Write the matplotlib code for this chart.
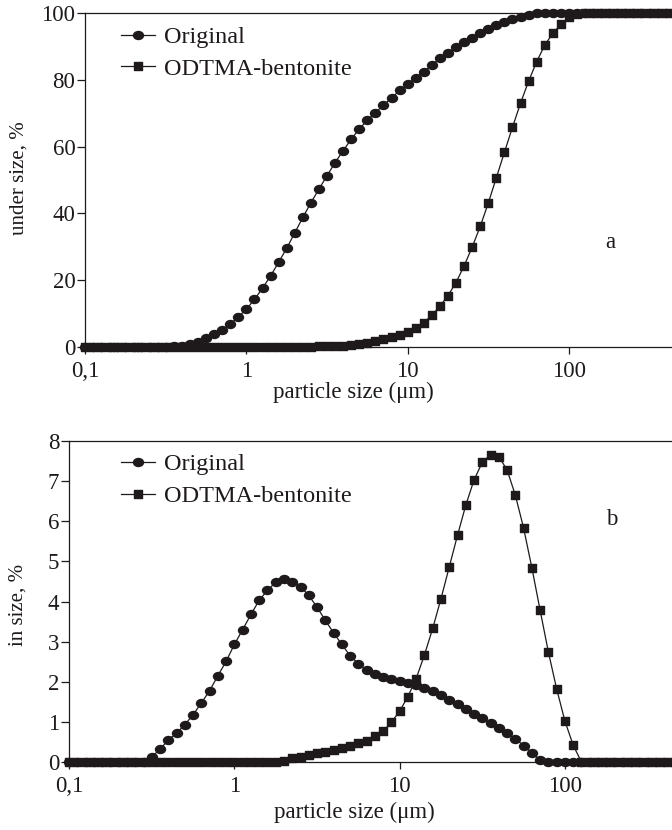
import matplotlib.pyplot as plt
from matplotlib.path import Path
from matplotlib.ticker import NullLocator

plt.rcParams['font.family'] = ['Liberation Serif', 'DejaVu Serif']

# Laser diffraction size classes (um)
size_um = [0.100, 0.112, 0.126, 0.142, 0.159, 0.178, 0.200, 0.224, 0.252, 0.283,
           0.317, 0.356, 0.399, 0.448, 0.502, 0.564, 0.632, 0.710, 0.796, 0.893,
           1.002, 1.125, 1.262, 1.416, 1.589, 1.783, 2.000, 2.244, 2.518, 2.825,
           3.170, 3.557, 3.991, 4.477, 5.024, 5.637, 6.325, 7.096, 7.962, 8.934,
           10.024, 11.247, 12.619, 14.159, 15.887, 17.825, 20.000, 22.440, 25.179, 28.251,
           31.698, 35.566, 39.905, 44.774, 50.238, 56.368, 63.246, 70.963, 79.621, 89.337,
           100.237, 112.468, 126.191, 141.589, 158.866, 178.250, 200.000, 224.404, 251.785, 282.508,
           316.979, 355.656, 399.052, 447.744, 502.377]

# cumulative undersize, %
orig_under = [0.0] * 10 + [0.05, 0.15, 0.4, 0.9, 1.6, 2.6, 3.8, 5.1, 6.8, 9.1,
              11.3, 14.3, 17.6, 21.3, 25.4, 29.6, 34.2, 38.8, 43.2, 47.3,
              51.3, 55.2, 58.8, 62.2, 65.3, 67.9, 70.2, 72.4, 74.6, 76.8,
              78.7, 80.6, 82.4, 84.5, 86.4, 88.1, 89.7, 91.2, 92.6, 93.9,
              95.1, 96.4, 97.4, 98.2, 98.9, 99.4, 99.9] + [100.0] * 18
odtma_under = [0.0] * 27 + [0.05, 0.1, 0.15, 0.2, 0.3, 0.4, 0.6, 0.9, 1.3, 1.7,
               2.3, 2.9, 3.6, 4.5, 5.7, 7.3, 9.5, 12.2, 15.4, 19.3,
               24.3, 29.9, 36.1, 43.1, 50.7, 58.3, 65.8, 73.0, 79.6, 85.4,
               90.4, 93.9, 96.6, 98.7, 99.7] + [100.0] * 13

# volume fraction in each class, %
orig_in = [0.0] * 10 + [0.13, 0.32, 0.55, 0.72, 0.93, 1.18, 1.47, 1.78, 2.15, 2.51,
           2.93, 3.30, 3.68, 4.03, 4.28, 4.48, 4.55, 4.48, 4.37, 4.15,
           3.86, 3.53, 3.22, 2.93, 2.65, 2.45, 2.30, 2.19, 2.12, 2.08,
           2.03, 1.98, 1.93, 1.84, 1.76, 1.66, 1.55, 1.44, 1.32, 1.20,
           1.09, 0.97, 0.84, 0.72, 0.58, 0.41, 0.23, 0.05] + [0.0] * 17
odtma_in = [0.0] * 26 + [0.03, 0.09, 0.12, 0.17, 0.22, 0.26, 0.30, 0.35, 0.40, 0.47,
            0.53, 0.64, 0.77, 0.99, 1.27, 1.63, 2.08, 2.67, 3.33, 4.07,
            4.86, 5.65, 6.40, 7.03, 7.47, 7.66, 7.61, 7.28, 6.65, 5.83,
            4.84, 3.78, 2.74, 1.82, 1.02, 0.42] + [0.0] * 13

series_names = ['Original', 'ODTMA-bentonite']
xtick_vals = [0.1, 1, 10, 100]
xtick_text = ['0,1', '1', '10', '100']

ink = '#1e1a1b'

# slightly wide markers
circ = Path.unit_circle()
dot = Path(circ.vertices * [1.25, 1.0], circ.codes)
box = Path([(-0.6, -0.5), (0.6, -0.5), (0.6, 0.5), (-0.6, 0.5), (-0.6, -0.5)],
           [Path.MOVETO, Path.LINETO, Path.LINETO, Path.LINETO, Path.CLOSEPOLY])

fig = plt.figure(figsize=(6.72, 8.30), dpi=100)
ax_a = fig.add_axes([85/672, (830-347)/830, 645/672, 334/830])
ax_b = fig.add_axes([69/672, (830-762)/830, 661/672, 321/830])


def style(ax, ylabel, yticks):
    ax.set_xscale('log')
    ax.set_xlim(0.1, 1000)
    ax.set_xticks(xtick_vals)
    ax.set_xticklabels(xtick_text)
    ax.xaxis.set_minor_locator(NullLocator())
    ax.set_yticks(yticks)
    ax.set_ylim(yticks[0], yticks[-1])
    ax.spines['right'].set_visible(False)
    for s in ['left', 'bottom', 'top']:
        ax.spines[s].set_color(ink)
        ax.spines[s].set_linewidth(0.9)
    ax.tick_params(axis='y', direction='out', length=6, width=0.9, pad=1,
                   labelsize=16.5, colors=ink)
    ax.tick_params(axis='x', direction='out', length=5, width=0.9, pad=5,
                   labelsize=16.5, colors=ink)
    ax.set_xlabel('particle size (\u03bcm)', fontsize=16.5, color=ink)
    ax.set_ylabel(ylabel, fontsize=15, color=ink)


def draw(ax, y1, y2):
    ax.plot(size_um, y1, color=ink, lw=0.9, marker=dot, ms=7.2,
            mfc=ink, mec=ink, clip_on=False, zorder=3, label=series_names[0])
    ax.plot(size_um, y2, color=ink, lw=0.9, marker=box, ms=6.2,
            mfc=ink, mec=ink, clip_on=False, zorder=3, label=series_names[1])


draw(ax_a, orig_under, odtma_under)
style(ax_a, 'under size, %', [0, 20, 40, 60, 80, 100])
ax_a.xaxis.set_label_coords(0.4155, -0.105)
ax_a.yaxis.set_label_coords(-0.088, 0.505)
ax_a.legend(loc='center left', bbox_to_anchor=(0.056, 0.88), frameon=False,
            fontsize=17.5, handlelength=1.4, handletextpad=0.35, labelspacing=0.4,
            borderpad=0, borderaxespad=0, numpoints=1, labelcolor=ink)
ax_a.text(0.814, 0.314, 'a', transform=ax_a.transAxes, fontsize=16.5,
          color=ink, ha='center', va='center')

draw(ax_b, orig_in, odtma_in)
style(ax_b, 'in size, %', [0, 1, 2, 3, 4, 5, 6, 7, 8])
ax_b.xaxis.set_label_coords(0.431, -0.125)
ax_b.yaxis.set_label_coords(-0.062, 0.49)
ax_b.legend(loc='center left', bbox_to_anchor=(0.079, 0.878), frameon=False,
            fontsize=17.5, handlelength=1.4, handletextpad=0.35, labelspacing=0.4,
            borderpad=0, borderaxespad=0, numpoints=1, labelcolor=ink)
ax_b.text(0.8215, 0.754, 'b', transform=ax_b.transAxes, fontsize=16.5,
          color=ink, ha='center', va='center')

fig.savefig('out.png', dpi=100)
